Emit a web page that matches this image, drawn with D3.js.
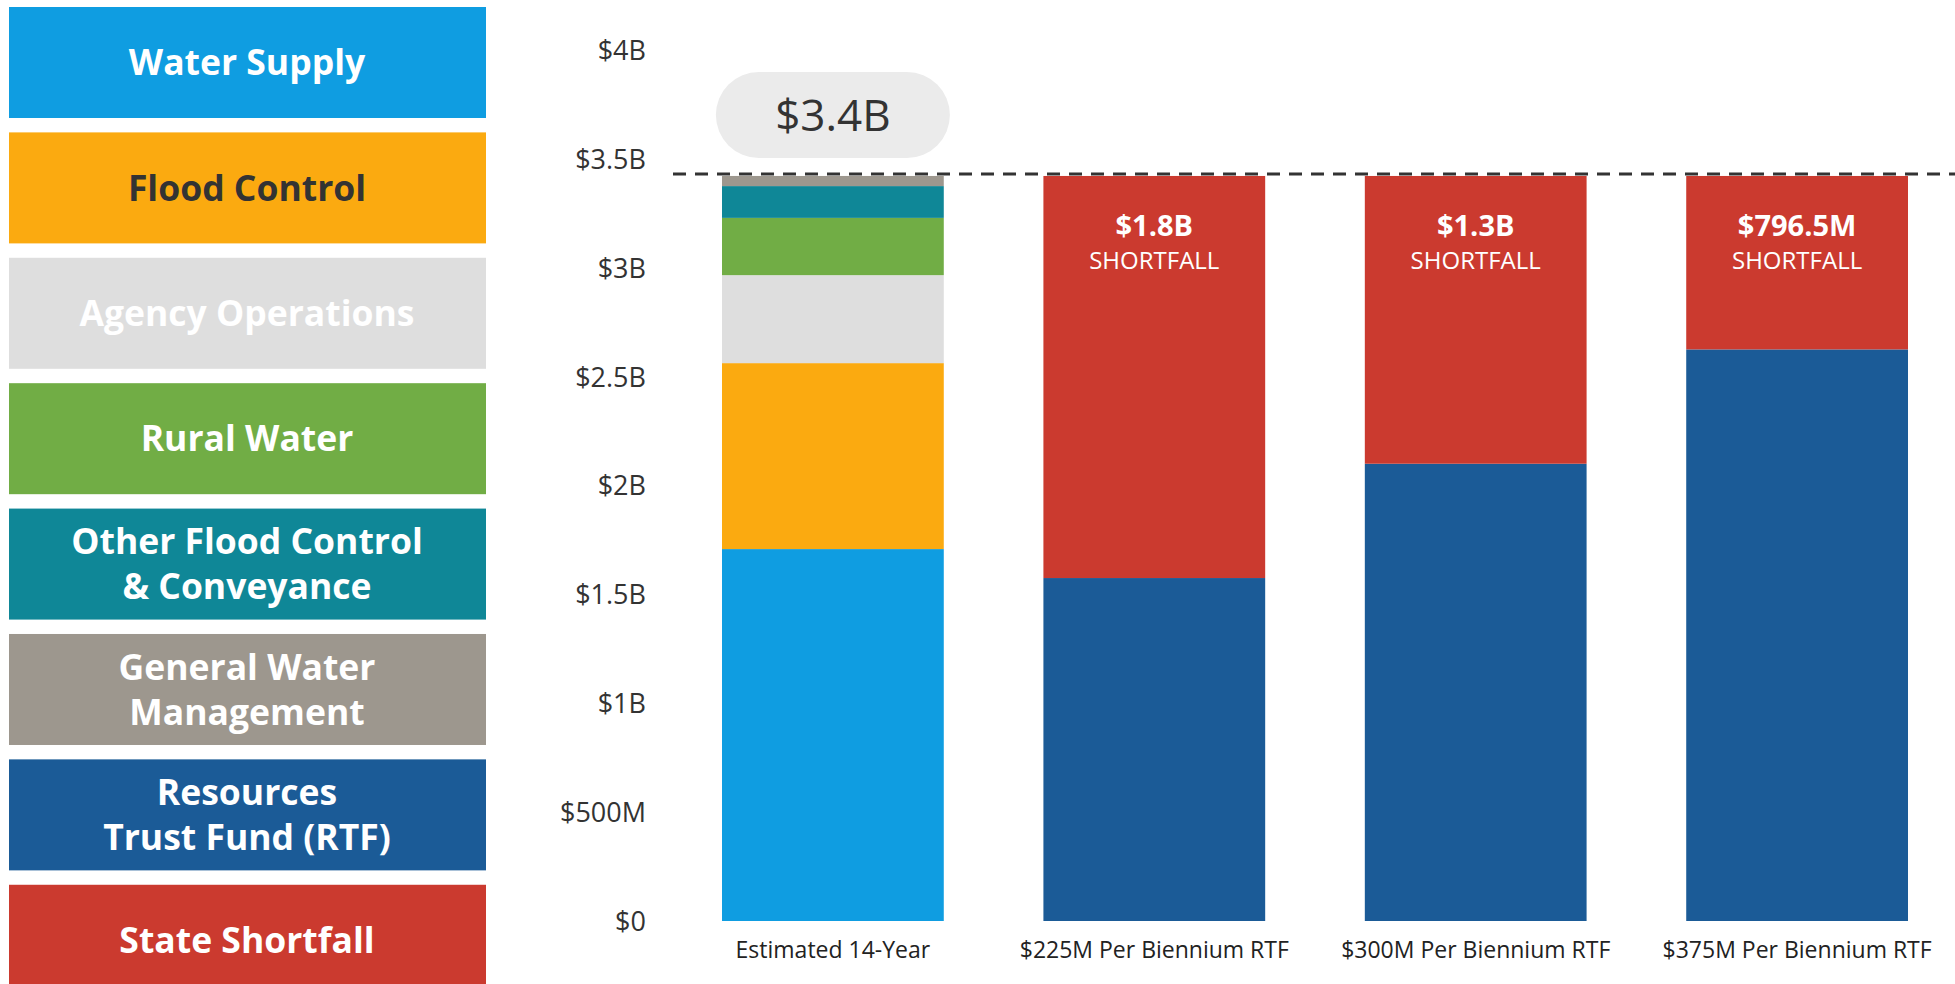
<!DOCTYPE html>
<html>
<head>
<meta charset="utf-8">
<script src="https://cdn.jsdelivr.net/npm/d3@7"></script>
<style>
  html, body { margin: 0; padding: 0; background: #ffffff; }
  svg { display: block; }
  text { font-family: "Open Sans", "Noto Sans", sans-serif; }
</style>
</head>
<body>
<script>
// ---------------- DATA (values in billions of dollars) ----------------
const categories = ["Estimated 14-Year", "$225M Per Biennium RTF", "$300M Per Biennium RTF", "$375M Per Biennium RTF"];

const waterSupply      = [1.708, 0, 0, 0];
const floodControl     = [0.854, 0, 0, 0];
const agencyOperations = [0.404, 0, 0, 0];
const ruralWater       = [0.263, 0, 0, 0];
const otherFloodControl= [0.146, 0, 0, 0];
const generalWaterMgmt = [0.0465, 0, 0, 0];
const resourcesTrustFund = [0, 1.575, 2.1, 2.625];
const stateShortfall   = [0, 1.8465, 1.3215, 0.7965];

const seriesKeys  = ["Water Supply", "Flood Control", "Agency Operations", "Rural Water",
                     "Other Flood Control & Conveyance", "General Water Management",
                     "Resources Trust Fund (RTF)", "State Shortfall"];
const seriesValues = [waterSupply, floodControl, agencyOperations, ruralWater,
                      otherFloodControl, generalWaterMgmt, resourcesTrustFund, stateShortfall];
const seriesColors = ["#0f9de1", "#fbaa10", "#dedede", "#71ad45", "#0f8797", "#9d978e", "#1b5b97", "#cb3a2f"];

const legendLines = [["Water Supply"], ["Flood Control"], ["Agency Operations"], ["Rural Water"],
                     ["Other Flood Control", "& Conveyance"], ["General Water", "Management"],
                     ["Resources", "Trust Fund (RTF)"], ["State Shortfall"]];
const legendTextColors = ["#ffffff", "#333333", "#ffffff", "#ffffff", "#ffffff", "#ffffff", "#ffffff", "#ffffff"];

const tickValues = [0, 0.5, 1, 1.5, 2, 2.5, 3, 3.5, 4];
const tickLabels = ["$0", "$500M", "$1B", "$1.5B", "$2B", "$2.5B", "$3B", "$3.5B", "$4B"];

const totalLabel = "$3.4B";
const shortfallLabels = ["", "$1.8B", "$1.3B", "$796.5M"];

// ---------------- CHART ----------------
const W = 1955, H = 984;
const svg = d3.select("body").append("svg").attr("width", W).attr("height", H);

const table = categories.map((c, i) => {
  const row = { category: c };
  seriesKeys.forEach((k, j) => row[k] = seriesValues[j][i]);
  return row;
});
const stacked = d3.stack().keys(seriesKeys)(table);
const color = d3.scaleOrdinal().domain(seriesKeys).range(seriesColors);

const y = d3.scaleLinear().domain([0, 4]).range([921, 50]);
const x = d3.scaleBand().domain(categories).range([722, 1908]).paddingInner(0.31).paddingOuter(0);

// legend
const legY = d3.scaleBand().domain(seriesKeys).range([7, 984 + 13]).paddingInner(0.105).paddingOuter(0);
const leg = svg.append("g");
seriesKeys.forEach((k, i) => {
  const y0 = legY(k), h = 111;
  leg.append("rect").attr("x", 9).attr("y", y0).attr("width", 477).attr("height", h).attr("fill", color(k));
  const lines = legendLines[i];
  const cy = y0 + h / 2;
  const t = leg.append("text")
    .attr("text-anchor", "middle")
    .attr("font-size", 35.5).attr("font-weight", 700)
    .attr("fill", legendTextColors[i]);
  lines.forEach((ln, li) => {
    const off = lines.length === 1 ? 0 : (li === 0 ? -22.5 : 22.5);
    t.append("tspan").attr("x", 247).attr("y", cy + off).attr("dy", "0.36em").text(ln);
  });
});

// y axis (labels only)
const yAxis = d3.axisLeft(y).tickValues(tickValues).tickFormat((d, i) => tickLabels[i]).tickSize(0).tickPadding(0);
const gy = svg.append("g").attr("transform", "translate(646,0)").call(yAxis);
gy.select(".domain").remove();
gy.selectAll("text").attr("font-size", 27).attr("fill", "#333").attr("font-family", "'Open Sans', sans-serif")
  .attr("dy", "0.35em").attr("font-weight", 400);

// x axis (labels only)
const xAxis = d3.axisBottom(x).tickSize(0).tickPadding(0);
const gx = svg.append("g").attr("transform", "translate(0,942)").call(xAxis);
gx.select(".domain").remove();
gx.selectAll("text").attr("font-size", 23).attr("fill", "#222").attr("font-family", "'Open Sans', sans-serif")
  .attr("dy", "0.71em");

// bars
svg.append("g").selectAll("g").data(stacked).join("g")
  .attr("fill", d => color(d.key))
  .selectAll("rect").data(d => d.filter(p => p[1] - p[0] > 0)).join("rect")
  .attr("x", d => x(d.data.category))
  .attr("width", x.bandwidth())
  .attr("y", d => y(d[1]))
  .attr("height", d => y(d[0]) - y(d[1]));

// dashed total line
const total = d3.sum(seriesValues, s => s[0]);
svg.append("line")
  .attr("x1", 673).attr("x2", W)
  .attr("y1", y(total) - 2).attr("y2", y(total) - 2)
  .attr("stroke", "#333").attr("stroke-width", 3)
  .attr("stroke-dasharray", "13,9");

// total pill
const cx0 = x(categories[0]) + x.bandwidth() / 2;
svg.append("rect").attr("x", cx0 - 117).attr("y", 72).attr("width", 234).attr("height", 86)
  .attr("rx", 43).attr("ry", 43).attr("fill", "#ebebeb");
svg.append("text").attr("x", cx0).attr("y", 116)
  .attr("text-anchor", "middle").attr("dy", "0.35em")
  .attr("font-size", 44).attr("fill", "#333").text(totalLabel);

// shortfall labels
const sfSeries = stacked[stacked.length - 1];
sfSeries.forEach((p, i) => {
  if (!shortfallLabels[i]) return;
  const cx = x(p.data.category) + x.bandwidth() / 2;
  const top = y(p[1]);
  const t = svg.append("text").attr("text-anchor", "middle").attr("fill", "#fff");
  t.append("tspan").attr("x", cx).attr("y", top + 60)
    .attr("font-size", 29).attr("font-weight", 700).text(shortfallLabels[i]);
  t.append("tspan").attr("x", cx).attr("y", top + 93)
    .attr("font-size", 24).attr("font-weight", 400).text("SHORTFALL");
});
</script>
</body>
</html>
